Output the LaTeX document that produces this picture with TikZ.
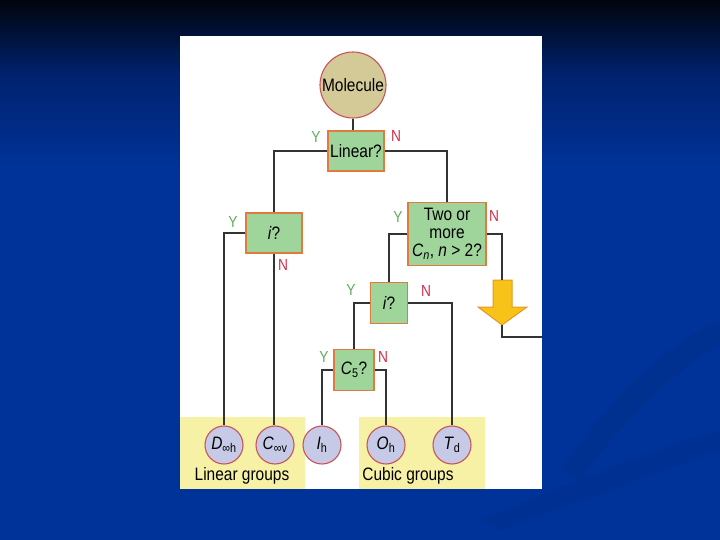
\documentclass[tikz,border=0pt]{standalone}
\usepackage{fontspec}
\setmainfont{Liberation Sans}[FakeStretch=0.86]
\definecolor{bgtop}{HTML}{01040C}
\definecolor{bgmid}{HTML}{00226E}
\definecolor{bgbot}{HTML}{00339A}
\definecolor{boxfill}{HTML}{9FD49B}
\definecolor{boxline}{HTML}{E07A3E}
\definecolor{molfill}{HTML}{D3CA98}
\definecolor{ringline}{HTML}{C9545A}
\definecolor{grpfill}{HTML}{C6CAE6}
\definecolor{zonefill}{HTML}{F6F1A4}
\definecolor{yescol}{HTML}{5CB05C}
\definecolor{nocol}{HTML}{D4304C}
\definecolor{arrfill}{HTML}{F8C318}
\definecolor{arrline}{HTML}{E49A20}
\definecolor{wire}{HTML}{333333}
\begin{document}
\begin{tikzpicture}[x=1pt,y=-1pt,
  qbox/.style={draw=boxline,fill=boxfill,line width=1.3pt,rectangle,inner sep=0pt,align=center,font=\fontsize{18}{18}\selectfont},
  grp/.style={draw=ringline,fill=grpfill,line width=1.1pt,circle,minimum size=38pt,inner sep=0pt,font=\fontsize{18}{17}\selectfont},
  ylab/.style={text=yescol,font=\fontsize{16}{16}\selectfont,inner sep=0pt},
  nlab/.style={text=nocol,font=\fontsize{16}{16}\selectfont,inner sep=0pt},
  zlab/.style={font=\fontsize{18}{18}\selectfont,inner sep=0pt},
  wirel/.style={draw=wire,line width=1.2pt}]
\useasboundingbox (0,0) rectangle (720,540);
% background
\shade[top color=bgtop,bottom color=bgmid] (0,0) rectangle (720,75);
\shade[top color=bgmid,bottom color=bgbot] (0,75) rectangle (720,170);
\fill[bgbot] (0,170) rectangle (720,540);
\fill[black,opacity=0.06] (560,470) .. controls (620,380) and (690,330) .. (720,320) -- (720,345) .. controls (690,360) and (630,410) .. (580,480) -- cycle;
\fill[black,opacity=0.05] (480,520) .. controls (600,470) and (680,440) .. (720,430) -- (720,450) .. controls (680,465) and (600,495) .. (500,530) -- cycle;
% panel
\fill[white] (180,36) rectangle (542,489);
\fill[zonefill] (180,417) rectangle (305,489);
\fill[zonefill] (359,417) rectangle (485,489);
% nodes
\node[draw=ringline,fill=molfill,line width=1.1pt,circle,minimum size=66pt,inner sep=0pt,font=\fontsize{18}{17}\selectfont] (mol) at (353,85) {Molecule};
\node[qbox,minimum width=56pt,minimum height=40pt] (lin) at (356,151) {Linear?};
\node[qbox,minimum width=56pt,minimum height=40pt] (iqa) at (274,233) {\textit{i}?};
\node[qbox,minimum width=78pt,minimum height=63pt] (two) at (447,234) {Two or\\more\\\textit{C\textsubscript{n}}, \textit{n} {>} 2?};
\node[qbox,minimum width=37pt,minimum height=41pt] (iqb) at (389,303) {\textit{i}?};
\node[qbox,minimum width=40pt,minimum height=41pt] (cfive) at (354,370) {\textit{C}\textsubscript{5}?};
\node[grp] (dinf) at (224,445) {\textit{D}\textsubscript{∞h}};
\node[grp] (cinf) at (275,445) {\textit{C}\textsubscript{∞v}};
\node[grp] (ih) at (322,445) {\textit{I}\textsubscript{h}};
\node[grp] (oh) at (386,445) {\textit{O}\textsubscript{h}};
\node[grp] (td) at (452,445) {\textit{T}\textsubscript{d}};
\node[zlab] (lingrp) at (242,476) {Linear groups};
\node[zlab] (cubgrp) at (408,476) {Cubic groups};
% Y/N labels
\node[ylab] (y1) at (316,137) {Y};
\node[nlab] (n1) at (396,136) {N};
\node[ylab] (y2) at (233,222) {Y};
\node[nlab] (n2) at (283,265) {N};
\node[ylab] (y3) at (398,217) {Y};
\node[nlab] (n3) at (494,216) {N};
\node[ylab] (y4) at (351,290) {Y};
\node[nlab] (n4) at (426,291) {N};
\node[ylab] (y5) at (324,357) {Y};
\node[nlab] (n5) at (383,357) {N};
% big arrow
\coordinate (arrtop) at (502,280);
\coordinate (arrtip) at (502,325);
\coordinate (exitc) at (542,337);
\filldraw[fill=arrfill,draw=arrline,line width=1pt,line join=miter]
  (493,280) -- (512,280) -- (512,307) -- (527,307) -- (arrtip) -- (478,307) -- (493,307) -- cycle;
% connectors
\draw[wirel] (mol.south) -- (mol.south |- lin.north);
\draw[wirel] (lin.west) -| (iqa.north);
\draw[wirel] (lin.east) -| (two.north);
\draw[wirel] (iqa.west) -| (dinf.north);
\draw[wirel] (iqa.south) -- (iqa.south |- cinf.north);
\draw[wirel] (two.east) -| (arrtop);
\draw[wirel] (arrtip) |- (exitc);
\draw[wirel] (two.west) -| (iqb.north);
\draw[wirel] (iqb.west) -| (cfive.north);
\draw[wirel] (iqb.east) -| (td.north);
\draw[wirel] (cfive.west) -| (ih.north);
\draw[wirel] (cfive.east) -| (oh.north);
\end{tikzpicture}
\end{document}
